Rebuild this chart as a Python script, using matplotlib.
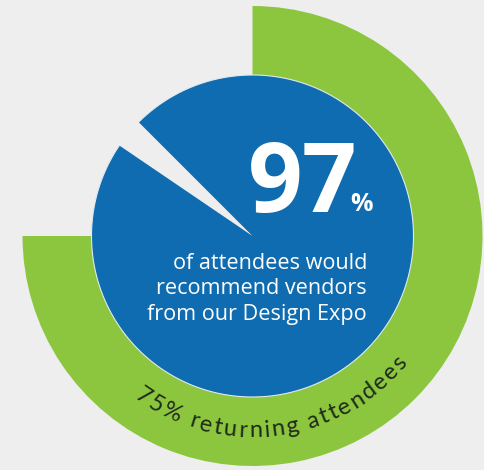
import numpy as np
import matplotlib
matplotlib.use("Agg")
import matplotlib.pyplot as plt
from matplotlib.font_manager import FontProperties
from matplotlib.textpath import TextToPath

# ---- data ----
recommend_pct = 97
returning_pct = 75
big_number = "97"
big_suffix = "%"
caption_lines = ["of attendees would", "recommend vendors", "from our Design Expo"]
ring_label = "75% returning attendees"

# ---- style ----
BG = "#eeeeee"
GREEN = "#8cc63f"
BLUE = "#0f6cb0"
W, H = 484, 470
FONT = "Lato"

fig = plt.figure(figsize=(W / 100, H / 100), dpi=100, facecolor=BG)
ax = fig.add_axes([0, 0, 1, 1])
ax.set_facecolor(BG)

cx, cy = 252.5, H - 236
R_out, R_blue = 230, 161

# green ring wedge (75%) from 12 o'clock clockwise
ax.pie([returning_pct, 100 - returning_pct], radius=R_out, center=(cx, cy),
       startangle=90, counterclock=False, colors=[GREEN, "none"],
       wedgeprops=dict(linewidth=0))

# blue pie (97%) with 3% gap
ax.pie([100 - recommend_pct, recommend_pct], radius=R_blue, center=(cx, cy),
       startangle=135, counterclock=True, colors=["none", BLUE],
       wedgeprops=dict(linewidth=0))
gap = (100 - recommend_pct) / 100 * 360
th = np.linspace(np.radians(135 + gap), np.radians(135 + 360), 400)
ax.plot(cx + R_blue * np.cos(th), cy + R_blue * np.sin(th), color="#dfe9ef", lw=0.8)

ax.set_xlim(0, W)
ax.set_ylim(0, H)
ax.set_aspect("equal")
ax.axis("off")

# big number
ax.text(357, H - 212, big_number, color="white", fontsize=69, fontweight="bold",
        fontstyle="normal", family="Open Sans", ha="right", va="baseline")
ax.text(350, H - 211, big_suffix, color="white", fontsize=18, fontweight="bold",
        fontstyle="normal", family="Open Sans", ha="left", va="baseline")

# caption
for i, line in enumerate(caption_lines):
    ax.text(367, H - (269 + 25.5 * i), line, color="white", fontsize=15.6,
            family="Open Sans", ha="right", va="baseline")

# curved ring label
fs = 17
fp = FontProperties(family=FONT, size=fs)
t2p = TextToPath()
px_per_pt = 100 / 72
tracking = 2.2
widths = []
for ch in ring_label:
    w, h, d = t2p.get_text_width_height_descent(ch, fp, ismath=False)
    widths.append(w * px_per_pt + tracking)
total = sum(widths)
r_base = 201
mid = np.radians(-82.7)
start = mid - (total / 2) / r_base
s = 0
for ch, w in zip(ring_label, widths):
    ang = start + (s + w / 2) / r_base
    s += w
    x = cx + r_base * np.cos(ang)
    y = cy + r_base * np.sin(ang)
    ax.text(x, y, ch, fontsize=fs, family=FONT, color="#1f2a1a",
            rotation=np.degrees(ang) + 90, rotation_mode="anchor",
            ha="center", va="baseline")

fig.savefig("out.png", dpi=100, facecolor=BG)
